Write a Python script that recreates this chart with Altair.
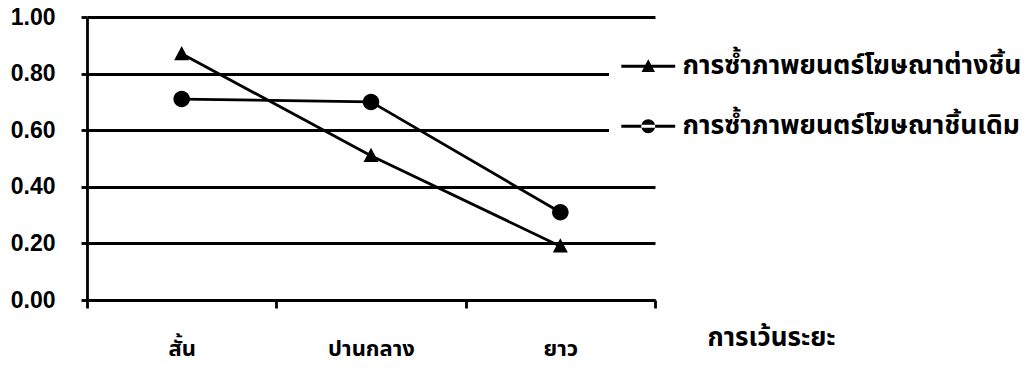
import altair as alt
import pandas as pd

categories = ["สั้น", "ปานกลาง", "ยาว"]
series_names = ["การซ้ำภาพยนตร์โฆษณาต่างชิ้น", "การซ้ำภาพยนตร์โฆษณาชิ้นเดิม"]
diff_piece = [0.87, 0.51, 0.19]
same_piece = [0.71, 0.70, 0.31]
y_ticks = [0.0, 0.2, 0.4, 0.6, 0.8, 1.0]

rows = []
for name, vals in zip(series_names, [diff_piece, same_piece]):
    for c, v in zip(categories, vals):
        rows.append({"ระยะ": c, "series": name, "value": v})
df = pd.DataFrame(rows)

THAI = "Noto Sans Thai, Noto Sans Thai UI, Loma, Garuda, Norasi, Tlwg Typo, DejaVu Sans, sans-serif"
NUM = "Liberation Sans, Arial, sans-serif"

x = alt.X(
    "ระยะ:N",
    sort=categories,
    scale=alt.Scale(type="band", paddingInner=0, paddingOuter=0),
    axis=alt.Axis(
        title="การเว้นระยะ",
        tickBand="extent",
        labelAngle=0,
        labelFont=THAI,
        labelFontSize=22,
        labelFontWeight="bold",
        labelColor="black",
        labelPadding=30,
        tickSize=8,
        tickWidth=2.8,
        tickColor="black",
        domainColor="black",
        domainWidth=2.8,
        grid=False,
        titleFont=THAI,
        titleFontSize=26,
        titleFontWeight="bold",
        titleColor="black",
        titleAlign="left",
        titleBaseline="middle",
        titleAnchor="start",
        titleX=620,
        titleY=37,
    ),
)
y = alt.Y(
    "value:Q",
    scale=alt.Scale(domain=[0, 1]),
    axis=alt.Axis(
        title=None,
        values=y_ticks,
        format=".2f",
        labelFont=NUM,
        labelFontSize=23,
        labelFontWeight="bold",
        labelColor="black",
        labelPadding=26,
        tickSize=6,
        tickWidth=2.8,
        tickColor="black",
        domainColor="black",
        domainWidth=2.8,
        grid=True,
        gridColor="black",
        gridWidth=2.8,
        gridOpacity=1,
    ),
)

base = alt.Chart(df)

lines = base.mark_line(color="black", strokeWidth=2.8).encode(x=x, y=y, detail="series:N")

tri_mark = "M0,-1.05L1,0.85L-1,0.85Z"
circ_mark = "M-1.1,0A1.1,1.1,0,1,0,1.1,0A1.1,1.1,0,1,0,-1.1,0Z"

points = base.mark_point(filled=True, color="black", opacity=1).encode(
    x=x,
    y=y,
    shape=alt.Shape(
        "series:N",
        scale=alt.Scale(domain=series_names, range=[tri_mark, circ_mark]),
        legend=None,
    ),
    size=alt.value(225),
)

tri_path = "M-2.8,-0.16H2.8V0.16H-2.8Z M0,-0.72L0.7,0.6L-0.7,0.6Z"
circ_path = "M-2.8,-0.16H2.8V0.16H-2.8Z M-0.72,0A0.72,0.72,0,1,0,0.72,0A0.72,0.72,0,1,0,-0.72,0Z"

legend_layer = base.mark_point(filled=True, color="black", opacity=0).encode(
    x=x,
    y=y,
    shape=alt.Shape(
        "series:N",
        scale=alt.Scale(domain=series_names, range=[tri_path, circ_path]),
        legend=alt.Legend(
            title=None,
            orient="none",
            legendX=522,
            legendY=10,
            padding=26,
            fillColor="white",
            strokeColor="white",
            symbolSize=370,
            symbolOpacity=1,
            symbolFillColor="black",
            symbolStrokeColor="black",
            symbolStrokeWidth=0,
            labelFont=THAI,
            labelFontSize=26.5,
            labelFontWeight="bold",
            labelColor="black",
            labelOffset=21,
            rowPadding=33,
            labelLimit=500,
        ),
    ),
)

chart = (
    alt.layer(lines, points, legend_layer)
    .resolve_scale(shape="independent")
    .properties(
        width=568,
        height=283,
        autosize=alt.AutoSizeParams(type="none"),
        padding={"left": 87, "top": 17, "right": 371, "bottom": 76},
        background="white",
    )
    .configure_view(stroke=None)
)

chart.save("out.html", embed_options={"renderer": "svg", "actions": False})
